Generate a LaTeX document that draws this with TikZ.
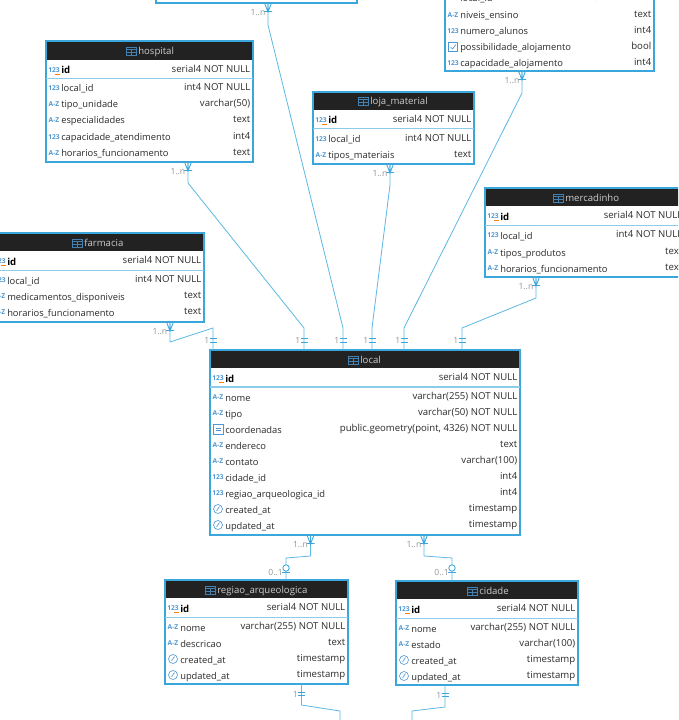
\documentclass[tikz,border=0pt]{standalone}
\usepackage{fontspec}
\setmainfont{Open Sans}
\newcount\rowno
\definecolor{edge}{HTML}{3AA6DB}
\definecolor{wire}{HTML}{5CB9E3}
\definecolor{head}{HTML}{222222}
\definecolor{ink}{HTML}{2B2B2B}
\definecolor{ic}{HTML}{4F97D2}
\definecolor{sepline}{HTML}{8CCBEA}
\tikzset{
  x=0.75pt,y=-0.75pt,
  tablebox/.style={draw=edge,line width=1.1pt,fill=white,inner sep=0,outer sep=0},
  lbl/.style={font=\fontsize{7}{8}\selectfont,text=ink,inner sep=0,anchor=base west},
  typ/.style={font=\fontsize{7.2}{8}\selectfont,text=ink,inner sep=0,anchor=base east},
  idlbl/.style={lbl,font=\fontsize{7.2}{8}\selectfont\bfseries,text=black},
  ttl/.style={font=\fontsize{7.2}{8}\selectfont,text=white!80!black,inner sep=0,anchor=base west},
  tiny/.style={font=\fontsize{5}{5}\selectfont\bfseries,text=ic,inner sep=0,anchor=center},
  card/.style={font=\fontsize{6.4}{7}\selectfont,text=black!42,inner sep=0,anchor=east},
  wirel/.style={draw=wire,line width=0.6pt},
  endmark/.style={draw=edge,line width=0.65pt},
}
% name x1 y1 x2 y2 headerBottom sepY iconX titleY
\newcommand{\ertable}[9]{%
  \node[tablebox,minimum width={(#4-#2)*0.75pt},minimum height={(#5-#3)*0.75pt}]
     (#1) at ({(#2+#4)/2},{(#3+#5)/2}) {};
  \fill[head] (#2+0.8,#3+0.8) rectangle (#4-0.8,#6);
  \draw[sepline,line width=0.6pt] (#2,#7) -- (#4,#7);
  \drawgrid{#8}{#9}%
}
\newcommand{\drawgrid}[2]{%
  \draw[ic!85!black,line width=0.5pt] (#1,#2-4) rectangle (#1+10,#2+4);
  \draw[ic!85!black,line width=0.5pt] (#1,#2-1.5) -- (#1+10,#2-1.5) (#1,#2+1.2) -- (#1+10,#2+1.2) (#1+5,#2-1.5) -- (#1+5,#2+4);
}
\newcommand{\icnum}[2]{\global\advance\rowno by 1 \node[tiny] (i\the\rowno) at (#1,#2) {123};}
\newcommand{\icaz}[2]{\global\advance\rowno by 1 \node[tiny] (i\the\rowno) at (#1,#2) {A-Z};}
\newcommand{\ickey}[2]{\icnum{#1}{#2}\draw[orange,line width=0.5pt] (#1+1,#2+4) -- (#1+6,#2+4);}
\newcommand{\icclock}[2]{\draw[ic,line width=0.45pt] (#1,#2) circle[radius=4.5]; \draw[ic,line width=0.45pt] (#1-1.5,#2+2) -- (#1+1.5,#2-2.5);}
\newcommand{\icgeo}[2]{\draw[ic,line width=0.45pt] (#1-5,#2-5) rectangle (#1+5,#2+5); \draw[ic,line width=0.45pt] (#1-2.5,#2-1) -- (#1+2.5,#2-1) (#1-2.5,#2+1.5) -- (#1+2.5,#2+1.5);}
\newcommand{\iccheck}[2]{\draw[ic,line width=0.45pt] (#1-4.5,#2-4.5) rectangle (#1+4.5,#2+4.5); \draw[ic,line width=0.5pt] (#1-2.5,#2) -- (#1-0.5,#2+2) -- (#1+3,#2-2.5);}
% x1 x2 y icon label type
\newcommand{\dbrow}[6]{%
  \csname ic#4\endcsname{#1+8}{#3}%
  \global\advance\rowno by 1
  \node[lbl] (l\the\rowno) at (#1+15,#3+4) {#5};
  \node[typ] (r\the\rowno) at (#2-2.5,#3+2.5) {#6};
}
\newcommand{\idrow}[5]{%
  \ickey{#1+8}{#3}%
  \global\advance\rowno by 1
  \node[idlbl] (l\the\rowno) at (#1+15,#3+4) {#4};
  \node[typ] (r\the\rowno) at (#2-2.5,#3+2.5) {#5};
}
\newcommand{\ttitle}[3]{\global\advance\rowno by 1 \node[ttl] (t\the\rowno) at (#1+12,#2+3.5) {#3};}
% crow foot below y
\newcommand{\many}[2]{%
  \draw[endmark] (#1-3.5,#2) -- (#1,#2+9) -- (#1+3.5,#2) (#1,#2) -- (#1,#2+9) (#1-4,#2+8.5) -- (#1+4,#2+8.5);
  \global\advance\rowno by 1
  \node[card] (c\the\rowno) at (#1-2.5,#2+9.5) {1..n};
}
% single end, bars at y, y+4
\newcommand{\one}[2]{%
  \draw[endmark] (#1-3.5,#2) -- (#1+3.5,#2) (#1-3.5,#2+3.5) -- (#1+3.5,#2+3.5);
  \global\advance\rowno by 1
  \node[card] (c\the\rowno) at (#1-3.5,#2+2) {1};
}
\newcommand{\zeroone}[2]{%
  \draw[endmark,fill=white] (#1,#2) circle[radius=3.2];
  \draw[endmark] (#1-4,#2+4.5) -- (#1+4,#2+4.5);
  \global\advance\rowno by 1
  \node[card] (c\the\rowno) at (#1-3,#2+4) {0..1};
}
\begin{document}
\begin{tikzpicture}
\path[use as bounding box] (0,0) rectangle (678,720);
\clip (0,0) rectangle (678,720);
\fill[white] (0,0) rectangle (678,720);

% tables
\ertable{topbox}{156}{-60}{357}{3}{-50}{-40}{200}{-50}
\ertable{school}{445}{-60}{654}{71}{-50}{-40}{500}{-50}
\dbrow{445}{654}{-2}{num}{local\_id}{int4 NOT NULL}
\dbrow{445}{654}{15}{az}{niveis\_ensino}{text}
\dbrow{445}{654}{31}{num}{numero\_alunos}{int4}
\dbrow{445}{654}{47}{check}{possibilidade\_alojamento}{bool}
\dbrow{445}{654}{63}{num}{capacidade\_alojamento}{int4}

\ertable{hospital}{46}{41}{253}{162}{60}{78.5}{126}{51}
\ttitle{126}{51}{hospital}
\idrow{46}{253}{70}{id}{serial4 NOT NULL}
\dbrow{46}{253}{88}{num}{local\_id}{int4 NOT NULL}
\dbrow{46}{253}{104}{az}{tipo\_unidade}{varchar(50)}
\dbrow{46}{253}{120}{az}{especialidades}{text}
\dbrow{46}{253}{137}{num}{capacidade\_atendimento}{int4}
\dbrow{46}{253}{153}{az}{horarios\_funcionamento}{text}

\ertable{loja}{313}{92}{474}{164}{110}{128}{358}{101}
\ttitle{358}{101}{loja\_material}
\idrow{313}{474}{120}{id}{serial4 NOT NULL}
\dbrow{313}{474}{139}{num}{local\_id}{int4 NOT NULL}
\dbrow{313}{474}{155}{az}{tipos\_materiais}{text}

\ertable{mercadinho}{485}{188}{685}{277}{206}{225}{553}{198}
\ttitle{553}{198}{mercadinho}
\idrow{485}{685}{216}{id}{serial4 NOT NULL}
\dbrow{485}{685}{235}{num}{local\_id}{int4 NOT NULL}
\dbrow{485}{685}{252}{az}{tipos\_produtos}{text}
\dbrow{485}{685}{268}{az}{horarios\_funcionamento}{text}

\ertable{farmacia}{-8}{233}{204}{322}{251}{270}{72}{243}
\ttitle{72}{243}{farmacia}
\idrow{-8}{204}{261}{id}{serial4 NOT NULL}
\dbrow{-8}{204}{280}{num}{local\_id}{int4 NOT NULL}
\dbrow{-8}{204}{296}{az}{medicamentos\_disponiveis}{text}
\dbrow{-8}{204}{312}{az}{horarios\_funcionamento}{text}

\ertable{local}{210}{350}{520}{535}{368}{387}{348}{360}
\draw[sepline,line width=1pt] (210,387) -- (520,387);
\ttitle{348}{360}{local}
\idrow{210}{520}{378}{id}{serial4 NOT NULL}
\dbrow{210}{520}{397}{az}{nome}{varchar(255) NOT NULL}
\dbrow{210}{520}{413}{az}{tipo}{varchar(50) NOT NULL}
\dbrow{210}{520}{429}{geo}{coordenadas}{public.geometry(point, 4326) NOT NULL}
\dbrow{210}{520}{445}{az}{endereco}{text}
\dbrow{210}{520}{461}{az}{contato}{varchar(100)}
\dbrow{210}{520}{477}{num}{cidade\_id}{int4}
\dbrow{210}{520}{493}{num}{regiao\_arqueologica\_id}{int4}
\dbrow{210}{520}{509}{clock}{created\_at}{timestamp}
\dbrow{210}{520}{525}{clock}{updated\_at}{timestamp}

\ertable{regiao}{165}{580}{348}{684}{598}{617}{205}{590}
\ttitle{205}{590}{regiao\_arqueologica}
\idrow{165}{348}{608}{id}{serial4 NOT NULL}
\dbrow{165}{348}{627}{az}{nome}{varchar(255) NOT NULL}
\dbrow{165}{348}{643}{az}{descricao}{text}
\dbrow{165}{348}{659}{clock}{created\_at}{timestamp}
\dbrow{165}{348}{675}{clock}{updated\_at}{timestamp}

\ertable{cidade}{396}{581}{578}{685}{599}{618}{467}{591}
\ttitle{467}{591}{cidade}
\idrow{396}{578}{609}{id}{serial4 NOT NULL}
\dbrow{396}{578}{628}{az}{nome}{varchar(255) NOT NULL}
\dbrow{396}{578}{644}{az}{estado}{varchar(100)}
\dbrow{396}{578}{660}{clock}{created\_at}{timestamp}
\dbrow{396}{578}{676}{clock}{updated\_at}{timestamp}

% connectors
\draw[wirel] (268,0 |- topbox.south) -- (268,25) -- (343,328) -- (343,0 |- local.north);
\draw[wirel] (188,0 |- hospital.south) -- (188,183) -- (304,328) -- (304,0 |- local.north);
\draw[wirel] (390,0 |- loja.south) -- (390,185) -- (372,328) -- (372,0 |- local.north);
\draw[wirel] (522,0 |- school.south) -- (522,93) -- (404,328) -- (404,0 |- local.north);
\draw[wirel] (536,0 |- mercadinho.south) -- (536,298) -- (462,328) -- (462,0 |- local.north);
\draw[wirel] (170,0 |- farmacia.south) -- (170,342) -- (213,328) -- (213,0 |- local.north);
\draw[wirel] (310.5,0 |- local.south) -- (310.5,556) -- (286,558) -- (286,0 |- regiao.north);
\draw[wirel] (424,0 |- local.south) -- (424,556) -- (452,558) -- (452,0 |- cidade.north);
\draw[wirel] (301.5,0 |- regiao.south) -- (301.5,705) -- (340,711) -- (340,720);
\draw[wirel] (445,0 |- cidade.south) -- (445,707) -- (412,711) -- (412,720);

% end marks
\many{268}{3}\many{188}{162}\many{390}{164}\many{522}{71}\many{536}{277}\many{170}{322}
\many{310.5}{535}\many{424}{535}
\one{304}{338.5}\one{343}{338.5}\one{372}{338.5}\one{404}{338.5}\one{462}{338.5}\one{213}{338.5}
\one{301.5}{692}\one{445}{693}
\zeroone{286}{568}\zeroone{452}{568}
\end{tikzpicture}
\end{document}
